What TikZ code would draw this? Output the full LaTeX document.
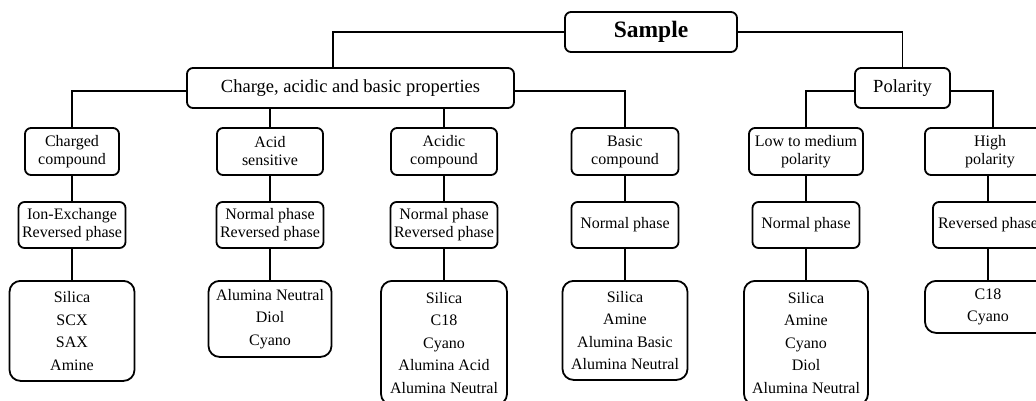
\documentclass[tikz,border=0pt]{standalone}
\usepackage{fontspec}
\setmainfont{Liberation Serif}
\begin{document}
\begin{tikzpicture}[x=1pt,y=-1pt,
  box/.style={draw, line width=1.8pt, rounded corners=6pt, align=center, inner sep=0pt,
    font=\fontsize{16}{18}\selectfont},
  listbox/.style={box, rounded corners=11pt, font=\fontsize{16}{22.5}\selectfont},
  head/.style={box, font=\fontsize{18.5}{20}\selectfont},
  link/.style={line width=1.8pt}]
\useasboundingbox (0,0) rectangle (1036,400);
\clip (0,0) rectangle (1036,400);
% level 0
\node[box, font=\fontsize{23.5}{26}\selectfont\bfseries, minimum width=172pt, minimum height=40pt] (sample) at (651,32) {Sample};
% level 1
\node[head, minimum width=327pt, minimum height=40pt] (charge) at (350.5,88) {Charge, acidic and basic properties};
\node[head, minimum width=95pt, minimum height=40pt] (polar) at (902.5,88) {Polarity};
% level 2
\node[box, minimum width=94pt, minimum height=47pt] (c1) at (72,151.5) {Charged\\compound};
\node[box, minimum width=106pt, minimum height=47pt] (c2) at (270,151.5) {Acid\\sensitive};
\node[box, minimum width=106pt, minimum height=47pt] (c3) at (444,151.5) {Acidic\\compound};
\node[box, minimum width=107pt, minimum height=47pt] (c4) at (625,151.5) {Basic\\compound};
\node[box, minimum width=114pt, minimum height=47pt] (c5) at (806,151.5) {Low to medium\\polarity};
\node[box, minimum width=130pt, minimum height=47pt] (c6) at (990,151.5) {High\\polarity};
% level 3
\node[box, minimum width=107pt, minimum height=46pt] (p1) at (72,225) {Ion-Exchange\\Reversed phase};
\node[box, minimum width=107pt, minimum height=46pt] (p2) at (270,225) {Normal phase\\Reversed phase};
\node[box, minimum width=107pt, minimum height=46pt] (p3) at (444,225) {Normal phase\\Reversed phase};
\node[box, minimum width=107pt, minimum height=46pt] (p4) at (625,225) {Normal phase};
\node[box, minimum width=107pt, minimum height=46pt] (p5) at (806,225) {Normal phase};
\node[box, minimum width=110pt, minimum height=46pt] (p6) at (988,225) {Reversed phase};
% level 4
\node[listbox, anchor=north, minimum width=125pt, minimum height=100pt] (s1) at (72,280) {Silica\\SCX\\SAX\\Amine};
\node[listbox, anchor=north, minimum width=123pt, minimum height=76pt] (s2) at (270,280) {Alumina Neutral\\Diol\\Cyano};
\node[listbox, anchor=north, minimum width=126pt, minimum height=124pt] (s3) at (444,280) {Silica\\C18\\Cyano\\Alumina Acid\\Alumina Neutral};
\node[listbox, anchor=north, minimum width=125pt, minimum height=99pt] (s4) at (625,280) {Silica\\Amine\\Alumina Basic\\Alumina Neutral};
\node[listbox, anchor=north, minimum width=124pt, minimum height=124pt] (s5) at (806,280) {Silica\\Amine\\Cyano\\Diol\\Alumina Neutral};
\node[listbox, anchor=north, minimum width=126pt, minimum height=52pt] (s6) at (988,280) {C18\\Cyano};
% connectors
\draw[link] (sample.west) -| ([xshift=-17.5pt]charge.north);
\draw[link] (sample.east) -| (polar.north);
\draw[link] ([yshift=-3pt]charge.west) -| (c1.north);
\draw[link] ([yshift=-3pt]charge.east) -| (c4.north);
\draw[link] (c2.north |- charge.south) -- (c2.north);
\draw[link] (c3.north |- charge.south) -- (c3.north);
\draw[link] ([yshift=-3pt]polar.west) -| (c5.north);
\draw[link] ([yshift=-3pt]polar.east) -| ([xshift=3pt]c6.north);
\draw[link] (p6.north |- c6.south) -- (p6.north);
\draw[link] (p6.south) -- (s6.north);
\foreach \i in {1,...,5} {
  \draw[link] (c\i.south) -- (p\i.north);
  \draw[link] (p\i.south) -- (s\i.north);
}
\end{tikzpicture}
\end{document}
